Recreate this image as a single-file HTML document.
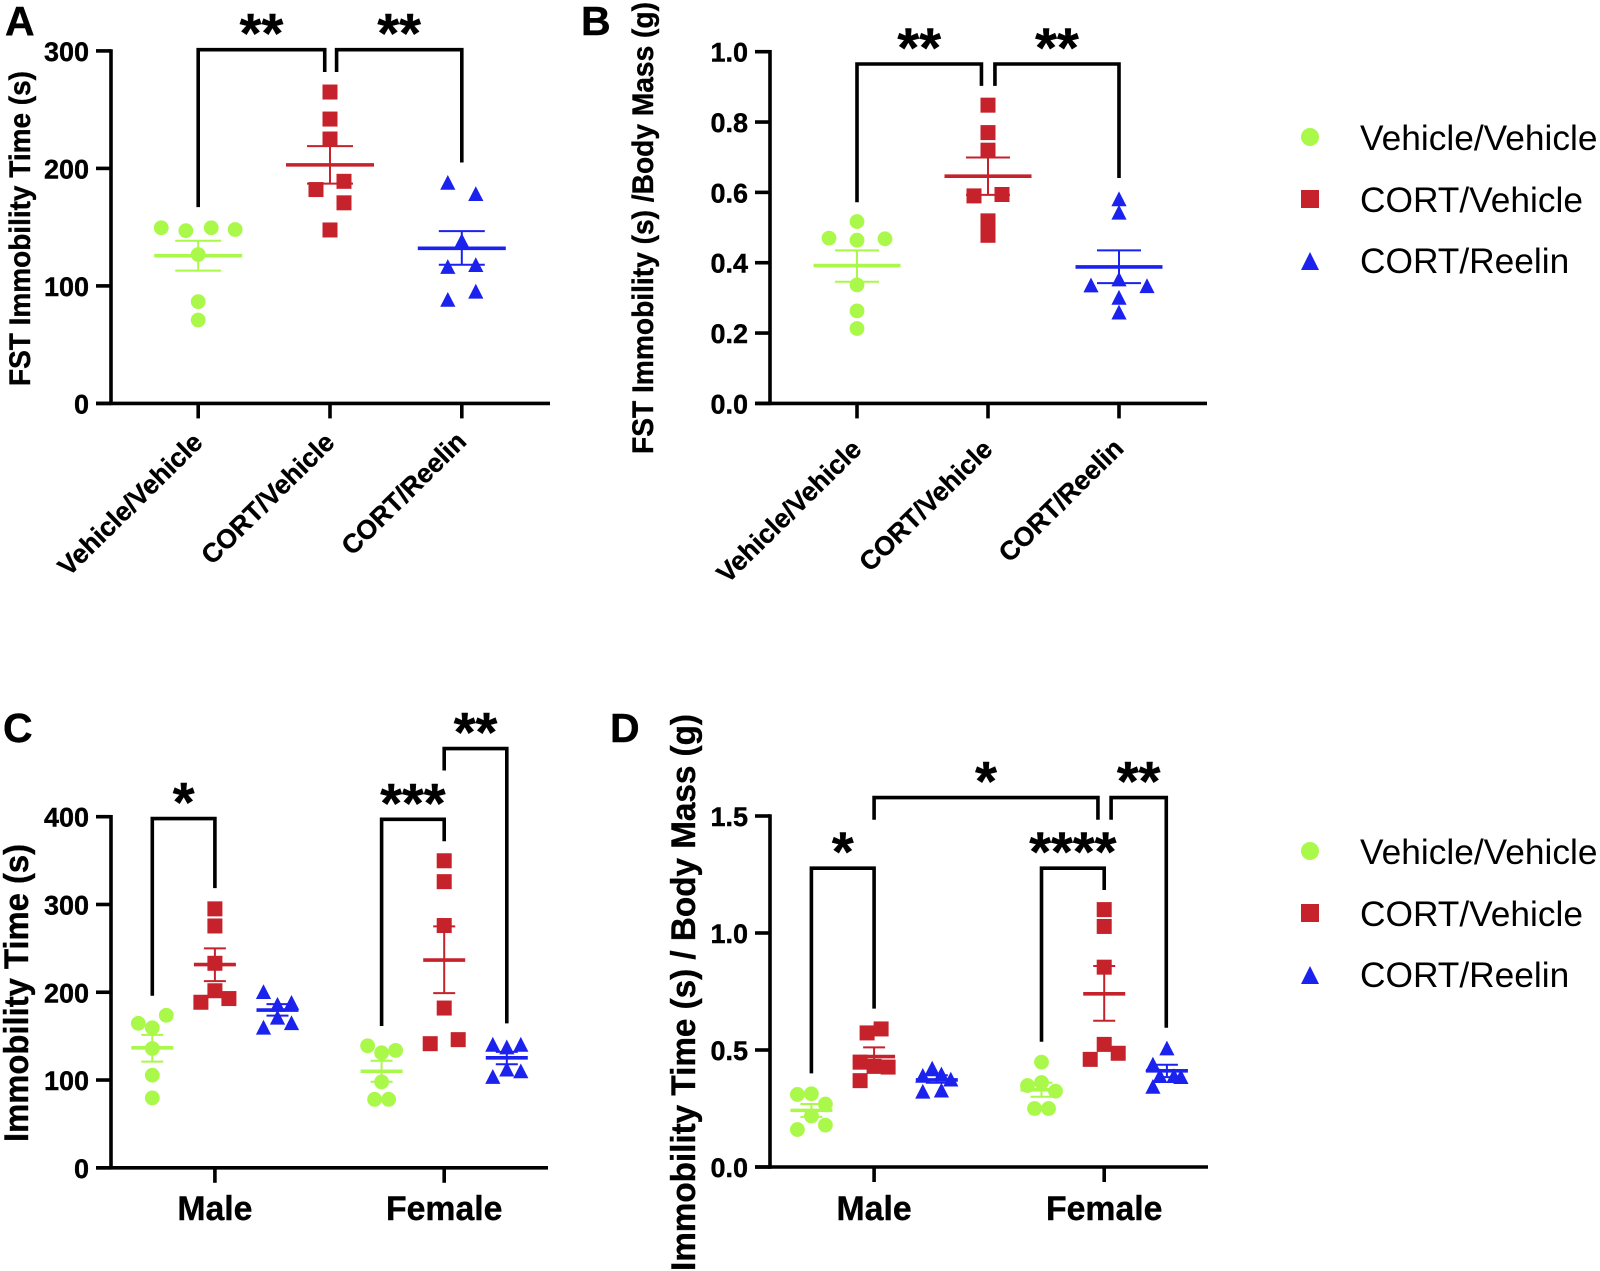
<!DOCTYPE html>
<html lang="en">
<head>
<meta charset="utf-8">
<title>FST Immobility Panels</title>
<style>
html,body{margin:0;padding:0;background:#fff;}
svg{display:block;}
text{font-family:"Liberation Sans",Arial,sans-serif;fill:#000;}
.b{font-weight:700;stroke:#000;stroke-width:.4px;}
</style>
</head>
<body>
<svg id="fig" width="1600" height="1271" viewBox="0 0 1600 1271" xmlns="http://www.w3.org/2000/svg">
<rect width="1600" height="1271" fill="#fff"/>
<text class="b" x="5" y="35" font-size="41">A</text>
<text class="b" x="581" y="35" font-size="41">B</text>
<text class="b" x="3" y="742" font-size="41">C</text>
<text class="b" x="610" y="742" font-size="41">D</text>

<text class="b" transform="translate(30,386) rotate(-90)" font-size="30" textLength="315" lengthAdjust="spacingAndGlyphs">FST Immobility Time (s)</text>
<text class="b" transform="translate(653,454) rotate(-90)" font-size="30" textLength="452" lengthAdjust="spacingAndGlyphs">FST Immobility (s) /Body Mass (g)</text>
<text class="b" transform="translate(28,1142) rotate(-90)" font-size="34" textLength="298" lengthAdjust="spacingAndGlyphs">Immobility Time (s)</text>
<text class="b" transform="translate(695,1271) rotate(-90)" font-size="34" textLength="557" lengthAdjust="spacingAndGlyphs">Immobility Time (s) / Body Mass (g)</text>

<g>
<circle cx="1310" cy="137" r="9" fill="#aaf84a"/>
<rect x="1301" y="190" width="18" height="18" fill="#c5222b"/>
<polygon points="1310,252 1319,270 1301,270" fill="#1b22ee"/>
<text x="1360" y="150" font-size="35.3">Vehicle/Vehicle</text>
<text x="1360" y="212" font-size="35.3">CORT/Vehicle</text>
<text x="1360" y="273" font-size="35.3">CORT/Reelin</text>
</g>
<g>
<circle cx="1310" cy="851" r="9" fill="#aaf84a"/>
<rect x="1301" y="904" width="18" height="18" fill="#c5222b"/>
<polygon points="1310,966 1319,984 1301,984" fill="#1b22ee"/>
<text x="1360" y="864" font-size="35.3">Vehicle/Vehicle</text>
<text x="1360" y="926" font-size="35.3">CORT/Vehicle</text>
<text x="1360" y="987" font-size="35.3">CORT/Reelin</text>
</g>
</svg>
<script>
/* ---------- shared labels ---------- */
const treatmentCategories = ['Vehicle/Vehicle', 'CORT/Vehicle', 'CORT/Reelin'];
const sexCategories = ['Male', 'Female'];

/* ---------- Panel A ---------- */
const aTicks = [0, 100, 200, 300];
const aTickLabels = ['0', '100', '200', '300'];
const aValues = [
  [149.5, 147, 149.5, 148, 126.7, 86.6, 71],
  [265, 242, 225, 189, 182, 170.7, 147.6],
  [187.6, 178, 138, 116, 117.6, 95, 88]
];
const aSwarm = [
  [-2.64, -0.88, 0.93, 2.64, 0, 0, 0],
  [0, 0, 0, 1, -1, 1, 0],
  [-1, 1, 0, -1, 1, 1, -1]
];
const aMeans = [125.7, 203, 132];
const aUpper = [138.4, 219, 146.6];
const aLower = [113, 187, 118];
const aBracketFrom = [0, 1.05];
const aBracketTo = [0.96, 2];
const aBracketTop = [301, 301];
const aBracketFromEnd = [167, 282];
const aBracketToEnd = [282, 205];
const aBracketStars = ['**', '**'];

/* ---------- Panel B ---------- */
const bTicks = [0, 0.2, 0.4, 0.6, 0.8, 1.0];
const bTickLabels = ['0.0', '0.2', '0.4', '0.6', '0.8', '1.0'];
const bValues = [
  [0.517, 0.47, 0.464, 0.468, 0.337, 0.263, 0.213],
  [0.848, 0.77, 0.72, 0.59, 0.594, 0.519, 0.478],
  [0.58, 0.542, 0.352, 0.335, 0.333, 0.3, 0.258]
];
const bSwarm = [
  [0, -2, 0, 2, 0, 0, 0],
  [0, 0, 0, -1, 1, 0, 0],
  [0, 0, 0, -2, 2, 0, 0]
];
const bMeans = [0.392, 0.646, 0.388];
const bUpper = [0.435, 0.699, 0.435];
const bLower = [0.346, 0.593, 0.342];
const bBracketFrom = [0, 1.053];
const bBracketTo = [0.95, 2];
const bBracketTop = [0.965, 0.965];
const bBracketFromEnd = [0.572, 0.903];
const bBracketToEnd = [0.903, 0.641];
const bBracketStars = ['**', '**'];

/* ---------- Panel C (male V, C, R; female V, C, R) ---------- */
const cTicks = [0, 100, 200, 300, 400];
const cTickLabels = ['0', '100', '200', '300', '400'];
const cValues = [
  [173.8, 164.6, 159.5, 135.9, 105.5, 79.7],
  [295, 275.5, 233, 201.7, 192.8, 188.6],
  [200, 185.6, 187.8, 170.9, 164.6, 159.5],
  [139, 133.8, 131, 97.9, 78, 78],
  [349.8, 326, 276, 182, 146, 141.4],
  [140, 140, 137, 111.8, 109.7, 103.4]
];
const cSwarm = [
  [1, -1, 0, 0, 0, 0],
  [0, 0, 0, 0, 1, -1],
  [-1, 0, 1, 0, 1, -1],
  [-1, 1, 0, 0, -0.5, 0.5],
  [0, 0, 0, 0, 1, -1],
  [-1, 1, 0, 0, 1, -1]
];
const cMeans = [136.7, 231.6, 179.7, 110, 236.7, 125.3];
const cUpper = [151.5, 250, 186.5, 122, 275, 132];
const cLower = [121, 212.7, 173.4, 98, 199, 118];
const cBracketFrom = [0, 3.663, 4.663];
const cBracketTo = [1, 4.663, 5.663];
const cBracketTop = [397.9, 397, 477.6];
const cBracketFromEnd = [196, 161.6, 452.7];
const cBracketToEnd = [318.6, 372, 164.6];
const cBracketStars = ['*', '***', '**'];

/* ---------- Panel D (male V, C, R; female V, C, R) ---------- */
const dTicks = [0, 0.5, 1.0, 1.5];
const dTickLabels = ['0.0', '0.5', '1.0', '1.5'];
const dValues = [
  [0.31, 0.313, 0.269, 0.218, 0.179, 0.16],
  [0.59, 0.573, 0.448, 0.427, 0.43, 0.369],
  [0.42, 0.389, 0.395, 0.373, 0.321, 0.326],
  [0.448, 0.348, 0.361, 0.324, 0.25, 0.25],
  [1.1, 1.028, 0.854, 0.524, 0.486, 0.46],
  [0.506, 0.437, 0.388, 0.388, 0.384, 0.342]
];
const dSwarm = [
  [-1, 0, 1, 0, 1, -1],
  [0.5, -0.5, -1, 1, 0, -1],
  [-0.33, -1, 0.33, 1, -1, 0.33],
  [0, -1, 0, 1, -0.5, 0.5],
  [0, 0, 0, 0, 1, -1],
  [0, -1, -0.5, 0.5, 1, -1]
];
const dMeans = [0.242, 0.472, 0.372, 0.33, 0.74, 0.411];
const dUpper = [0.269, 0.511, 0.392, 0.36, 0.859, 0.437];
const dLower = [0.214, 0.44, 0.36, 0.3, 0.625, 0.384];
const dBracketFrom = [0, 3.67, 1, 4.78];
const dBracketTo = [1, 4.67, 4.57, 5.66];
const dBracketTop = [1.277, 1.277, 1.579, 1.579];
const dBracketFromEnd = [0.40, 0.535, 1.484, 1.484];
const dBracketToEnd = [0.677, 1.184, 1.484, 0.595];
const dBracketStars = ['*', '****', '*', '**'];

/* ---------- drawing ---------- */
const NS = 'http://www.w3.org/2000/svg';
const fig = document.getElementById('fig');
const COLORS = ['#aaf84a', '#c5222b', '#1b22ee'];
const INK = '#000';

function node(tag, parent, attrs) {
  const el = document.createElementNS(NS, tag);
  for (const k in attrs) el.setAttribute(k, attrs[k]);
  parent.appendChild(el);
  return el;
}

function drawPanel(p) {
  const g = node('g', fig, {});
  
  

  const yMax = p.ticks[p.ticks.length - 1];
  const yScale = v => p.y0 + (p.yTop - p.y0) * (v / yMax);
  const xScale = u => p.x0 + p.step * u;

  /* axes */
  const yAxis = node('line', g, {x1: p.axisX, x2: p.axisX, y1: yScale(yMax) - 1.7, y2: p.y0 + 1.7, stroke: INK, 'stroke-width': 3.6});
  
  
  const xAxis = node('line', g, {x1: p.axisX - 15, x2: p.axisEnd, y1: p.y0, y2: p.y0, stroke: INK, 'stroke-width': 3.6});
  
  

  p.ticks.forEach((t, i) => {
    const ty = yScale(t);
    const tick = node('line', g, {x1: p.axisX - 15, x2: p.axisX, y1: ty, y2: ty, stroke: INK, 'stroke-width': 3.6});
    
    
    const lab = node('text', g, {x: p.axisX - 22, y: ty + 10, 'text-anchor': 'end', 'font-size': 27, class: 'b'});
    
    
    lab.textContent = p.tickLabels[i];
  });

  /* category ticks and labels */
  p.categories.forEach((c, i) => {
    const cx = xScale(p.catUnits[i]);
    const tick = node('line', g, {x1: cx, x2: cx, y1: p.y0, y2: p.y0 + 15, stroke: INK, 'stroke-width': 3.6});
    
    
    let lab;
    if (p.rotated) {
      const lx = cx + 6;
      const ly = p.labelY + (i === 2 ? -1 : 0);
      lab = node('text', g, {x: lx, y: ly, 'text-anchor': 'end', 'font-size': 26.5, class: 'b', transform: 'rotate(-44.5 ' + lx + ' ' + ly + ')'});
    } else {
      lab = node('text', g, {x: cx, y: p.labelY, 'text-anchor': 'middle', 'font-size': 33.8, class: 'b'});
    }
    
    
    lab.textContent = c;
  });

  /* clusters: points, mean line, SEM */
  p.values.forEach((vals, ci) => {
    const s = ci % 3;
    const color = COLORS[s];
    const u = p.clusterUnit(ci);
    const cx = xScale(u);
    const cg = node('g', g, {});
    
    

    vals.forEach((v, j) => {
      const px = cx + p.swarm[ci][j] * 14;
      const py = yScale(v);
      let m;
      if (s === 0) {
        m = node('circle', cg, {cx: px, cy: py, r: 7.4, fill: color});
      } else if (s === 1) {
        m = node('rect', cg, {x: px - 7.5, y: py - 7.5, width: 15, height: 15, fill: color});
      } else {
        m = node('polygon', cg, {points: [px, py - 8, px + 7.6, py + 6.8, px - 7.6, py + 6.8].join(' '), fill: color});
      }
      
      
    });

    const up = yScale(p.upper[ci]);
    const lo = yScale(p.lower[ci]);
    const me = yScale(p.means[ci]);
    const stem = node('line', cg, {x1: cx, x2: cx, y1: up, y2: lo, stroke: color, 'stroke-width': 2});
    
    
    const capU = node('line', cg, {x1: cx - p.capHalf, x2: cx + p.capHalf, y1: up, y2: up, stroke: color, 'stroke-width': 2});
    
    
    const capL = node('line', cg, {x1: cx - p.capHalf, x2: cx + p.capHalf, y1: lo, y2: lo, stroke: color, 'stroke-width': 2});
    
    
    const mean = node('line', cg, {x1: cx - p.meanHalf, x2: cx + p.meanHalf, y1: me, y2: me, stroke: color, 'stroke-width': 3.6});
    
    
  });

  /* significance brackets */
  p.brFrom.forEach((f, i) => {
    const x1 = xScale(f);
    const x2 = xScale(p.brTo[i]);
    const top = yScale(p.brTop[i]);
    const path = node('path', g, {
      d: 'M' + x1 + ' ' + yScale(p.brFromEnd[i]) + 'V' + top + 'H' + x2 + 'V' + yScale(p.brToEnd[i]),
      fill: 'none', stroke: INK, 'stroke-width': 3.6, 'stroke-linejoin': 'miter'
    });
    
    
    const star = node('text', g, {x: (x1 + x2) / 2, y: top + 3, 'text-anchor': 'middle', 'font-size': 56, class: 'b'});
    
    
    star.textContent = p.brStars[i];
  });
}

drawPanel({
  id: 'a', ticks: aTicks, tickLabels: aTickLabels, categories: treatmentCategories, catUnits: [0, 1, 2],
  x0: 198.2, step: 131.8, axisX: 111, axisEnd: 550, y0: 403.4, yTop: 50.9, labelY: 444, rotated: true,
  values: aValues, swarm: aSwarm, means: aMeans, upper: aUpper, lower: aLower,
  clusterUnit: i => i, meanHalf: 44, capHalf: 23,
  brFrom: aBracketFrom, brTo: aBracketTo, brTop: aBracketTop, brFromEnd: aBracketFromEnd, brToEnd: aBracketToEnd, brStars: aBracketStars
});
drawPanel({
  id: 'b', ticks: bTicks, tickLabels: bTickLabels, categories: treatmentCategories, catUnits: [0, 1, 2],
  x0: 857, step: 131, axisX: 770, axisEnd: 1207, y0: 403.4, yTop: 51.7, labelY: 451, rotated: true,
  values: bValues, swarm: bSwarm, means: bMeans, upper: bUpper, lower: bLower,
  clusterUnit: i => i, meanHalf: 43.5, capHalf: 22,
  brFrom: bBracketFrom, brTo: bBracketTo, brTop: bBracketTop, brFromEnd: bBracketFromEnd, brToEnd: bBracketToEnd, brStars: bBracketStars
});
drawPanel({
  id: 'c', ticks: cTicks, tickLabels: cTickLabels, categories: sexCategories, catUnits: [1, 4.663],
  x0: 152.3, step: 62.6, axisX: 111, axisEnd: 548, y0: 1167.8, yTop: 816.7, labelY: 1220, rotated: false,
  values: cValues, swarm: cSwarm, means: cMeans, upper: cUpper, lower: cLower,
  clusterUnit: i => Math.floor(i / 3) * 3.663 + i % 3, meanHalf: 21, capHalf: 11,
  brFrom: cBracketFrom, brTo: cBracketTo, brTop: cBracketTop, brFromEnd: cBracketFromEnd, brToEnd: cBracketToEnd, brStars: cBracketStars
});
drawPanel({
  id: 'd', ticks: dTicks, tickLabels: dTickLabels, categories: sexCategories, catUnits: [1, 4.67],
  x0: 811.4, step: 62.7, axisX: 770, axisEnd: 1208, y0: 1167, yTop: 816, labelY: 1220, rotated: false,
  values: dValues, swarm: dSwarm, means: dMeans, upper: dUpper, lower: dLower,
  clusterUnit: i => Math.floor(i / 3) * 3.67 + i % 3, meanHalf: 21, capHalf: 11,
  brFrom: dBracketFrom, brTo: dBracketTo, brTop: dBracketTop, brFromEnd: dBracketFromEnd, brToEnd: dBracketToEnd, brStars: dBracketStars
});
</script>
</body>
</html>
